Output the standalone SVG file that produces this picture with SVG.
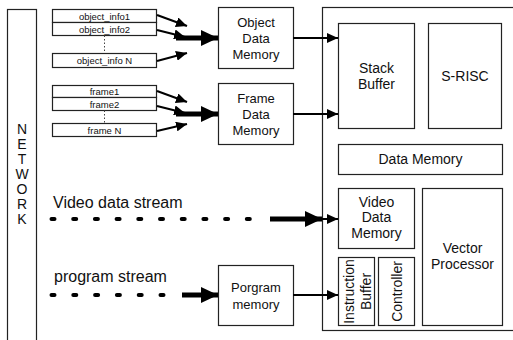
<svg xmlns="http://www.w3.org/2000/svg" width="513" height="340" viewBox="0 0 513 340">
  <style>
    .box { fill: #fff; stroke: #222; stroke-width: 1.2; }
    .t { font-family: "Liberation Sans", Arial, sans-serif; fill: #111; text-anchor: middle; }
    .s9 { font-size: 9.5px; }
    .s13 { font-size: 13px; }
    .s14 { font-size: 14px; }
    .lbl { font-family: "Liberation Sans", Arial, sans-serif; fill: #111; font-size: 16px; }
    .thin { stroke: #000; stroke-width: 2; fill: none; }
    .thick { stroke: #000; stroke-width: 5; fill: none; }
    .dots { stroke: #000; stroke-width: 4; stroke-linecap: round; fill: none; }
    .vdash { stroke: #444; stroke-width: 1; stroke-dasharray: 1.5 2; fill: none; }
  </style>
  <defs>
    <marker id="headThin" markerUnits="userSpaceOnUse" markerWidth="12" markerHeight="10" refX="11" refY="5" orient="auto">
      <path d="M0,0 L11,5 L0,10 Z" fill="#000"/>
    </marker>
    <marker id="headThick" markerUnits="userSpaceOnUse" markerWidth="18" markerHeight="16" refX="17" refY="8" orient="auto">
      <path d="M0,0 L17,8 L0,16 Z" fill="#000"/>
    </marker>
  </defs>

  <rect width="513" height="340" fill="#fff"/>

  <!-- network column -->
  <g id="network">
    <rect class="box" x="7.5" y="9.5" width="29" height="340"/>
    <text class="t s14" x="22" y="134">N</text>
    <text class="t s14" x="22" y="149">E</text>
    <text class="t s14" x="22" y="164">T</text>
    <text class="t s14" x="22" y="179">W</text>
    <text class="t s14" x="22" y="194">O</text>
    <text class="t s14" x="22" y="209">R</text>
    <text class="t s14" x="22" y="224">K</text>
  </g>

  <!-- processor chip outline -->
  <g id="chip">
    <rect class="box" x="322.5" y="7.5" width="200" height="323"/>
  </g>

  <g id="object-info">
    <rect class="box" x="52.5" y="9.5" width="104" height="13"/>
    <text class="t s9" x="104.5" y="19.5">object_info1</text>
    <rect class="box" x="52.5" y="22.5" width="104" height="13"/>
    <text class="t s9" x="104.5" y="32.5">object_info2</text>
    <path class="vdash" d="M104.5,35.5 V53"/>
    <rect class="box" x="52.5" y="53.5" width="104" height="14"/>
    <text class="t s9" x="104.5" y="64">object_info N</text>
  </g>

  <g id="frame-info">
    <rect class="box" x="52.5" y="85.5" width="104" height="12"/>
    <text class="t s9" x="104.5" y="95">frame1</text>
    <rect class="box" x="52.5" y="97.5" width="104" height="13"/>
    <text class="t s9" x="104.5" y="107.5">frame2</text>
    <path class="vdash" d="M104.5,110.5 V123"/>
    <rect class="box" x="52.5" y="123.5" width="104" height="13"/>
    <text class="t s9" x="104.5" y="133.5">frame N</text>
  </g>

  <g id="object-data-memory">
    <rect class="box" x="218.5" y="7.5" width="75" height="61"/>
    <text class="t s13" x="256" y="27">Object</text>
    <text class="t s13" x="256" y="43">Data</text>
    <text class="t s13" x="256" y="59">Memory</text>
  </g>

  <g id="frame-data-memory">
    <rect class="box" x="218.5" y="83.5" width="75" height="61"/>
    <text class="t s13" x="256" y="103">Frame</text>
    <text class="t s13" x="256" y="119">Data</text>
    <text class="t s13" x="256" y="135">Memory</text>
  </g>

  <g id="program-memory">
    <rect class="box" x="218.5" y="265.5" width="75" height="60"/>
    <text class="t s13" x="256" y="292">Porgram</text>
    <text class="t s13" x="256" y="309">memory</text>
  </g>

  <g id="stack-buffer">
    <rect class="box" x="338.5" y="23.5" width="76" height="105"/>
    <text class="t s14" x="376.5" y="73">Stack</text>
    <text class="t s14" x="376.5" y="89">Buffer</text>
  </g>

  <g id="s-risc">
    <rect class="box" x="428.5" y="23.5" width="73" height="105"/>
    <text class="t s14" x="465" y="81">S-RISC</text>
  </g>

  <g id="data-memory">
    <rect class="box" x="338.5" y="144.5" width="164" height="30"/>
    <text class="t s14" x="420.5" y="164">Data Memory</text>
  </g>

  <g id="video-data-memory">
    <rect class="box" x="338.5" y="188.5" width="76" height="60"/>
    <text class="t s14" x="376.5" y="207">Video</text>
    <text class="t s14" x="376.5" y="222">Data</text>
    <text class="t s14" x="376.5" y="238">Memory</text>
  </g>

  <g id="vector-processor">
    <rect class="box" x="422.5" y="188.5" width="80" height="137"/>
    <text class="t s14" x="462.5" y="253">Vector</text>
    <text class="t s14" x="462.5" y="269">Processor</text>
  </g>

  <g id="instruction-buffer">
    <rect class="box" x="338.5" y="257.5" width="36" height="68"/>
    <text class="t s14" transform="translate(354 291.5) rotate(-90)">Instruction</text>
    <text class="t s14" transform="translate(371 291.5) rotate(-90)">Buffer</text>
  </g>

  <g id="controller">
    <rect class="box" x="378.5" y="257.5" width="36" height="68"/>
    <text class="t s14" transform="translate(401.5 291.5) rotate(-90)">Controller</text>
  </g>

  <!-- stream labels -->
  <text class="lbl" x="53" y="208">Video data stream</text>
  <text class="lbl" x="54" y="282">program stream</text>

  <g id="connectors">
    <!-- object info fan-in -->
    <path class="thin" d="M157,15 L187,26" marker-end="url(#headThin)"/>
    <path class="thin" d="M157,30 L185,37" marker-end="url(#headThin)"/>
    <path class="thin" d="M157,61 L187,53" marker-end="url(#headThin)"/>
    <path class="thick" d="M176,38 H218" marker-end="url(#headThick)"/>
    <!-- frame fan-in -->
    <path class="thin" d="M157,91 L187,102" marker-end="url(#headThin)"/>
    <path class="thin" d="M157,106 L185,113" marker-end="url(#headThin)"/>
    <path class="thin" d="M157,131 L187,124" marker-end="url(#headThin)"/>
    <path class="thick" d="M176,114 H218" marker-end="url(#headThick)"/>
    <!-- memories to stack buffer -->
    <path class="thin" d="M293,38 H338" marker-end="url(#headThin)"/>
    <path class="thin" d="M293,114 H338" marker-end="url(#headThin)"/>
    <!-- video data stream -->
    <path class="dots" d="M51.5,219 H252" stroke-dasharray="3 18.7"/>
    <path class="thick" d="M270,219 H322" marker-end="url(#headThick)"/>
    <path class="thin" d="M322,219 H338" marker-end="url(#headThin)"/>
    <!-- program stream -->
    <path class="dots" d="M51.5,295 H165" stroke-dasharray="3 18.8"/>
    <path class="thick" d="M182,295 H218" marker-end="url(#headThick)"/>
    <path class="thin" d="M293,295 H338" marker-end="url(#headThin)"/>
  </g>
</svg>
